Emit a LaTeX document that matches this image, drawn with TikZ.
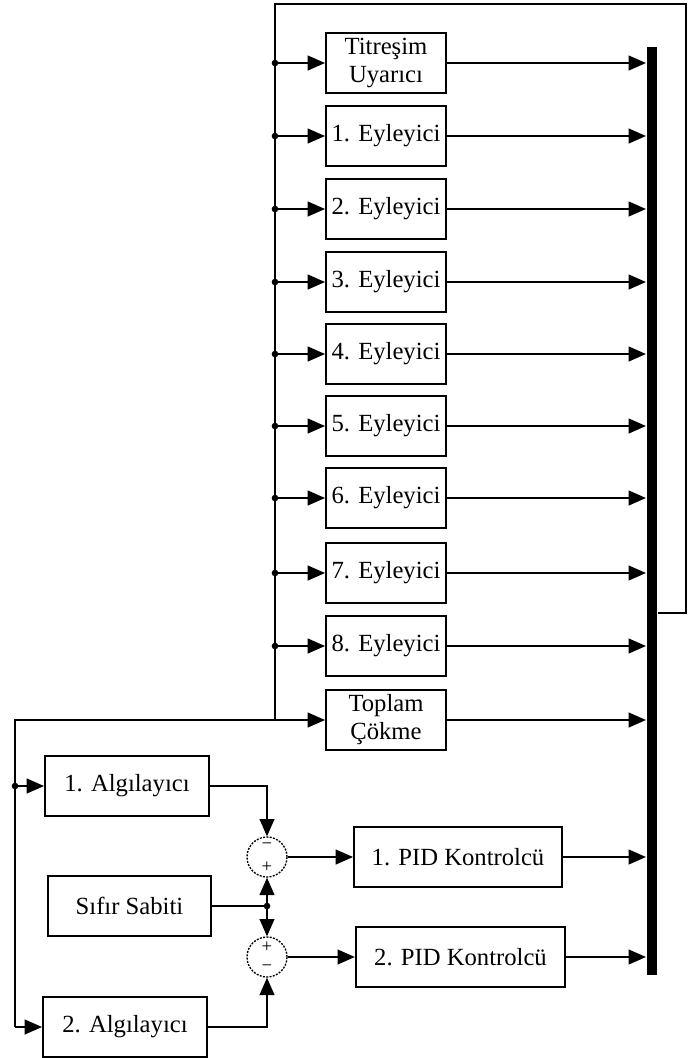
\documentclass[tikz,border=0pt]{standalone}
\usepackage{fontspec}
\setmainfont{Liberation Serif}
\usetikzlibrary{arrows.meta}
\begin{document}
\begin{tikzpicture}[x=0.75pt,y=-0.75pt, line width=1.5pt,
  blk/.style={draw, line width=1.4pt, inner sep=0pt, minimum width=90pt, minimum height=45pt, align=center, font=\fontsize{18.5}{21}\selectfont},
  arr/.style={-{Triangle[length=13pt,width=11pt]}},
  jdot/.style={circle, fill, inner sep=0pt, minimum size=5pt},
  sumc/.style={circle, draw, dash pattern=on 1.5pt off 1pt, line width=1pt, minimum size=30pt, inner sep=0pt},
  sgn/.style={inner sep=0pt, font=\fontsize{14}{14}\selectfont}]
\fill[white] (0,0) rectangle (688,1058);
\useasboundingbox (0,0) rectangle (688,1058);

% mux bar
\node[fill=black, draw=none, inner sep=0pt, minimum width=7.5pt, minimum height=696pt] (mux) at (652,511) {};

% top column blocks
\node[blk] (t0) at (386,63) {Titreşim\\Uyarıcı};
\foreach \i/\y in {1/136,2/209,3/282,4/354,5/426,6/498,7/573,8/646}{
  \node[blk] (e\i) at (386,\y) {\i. Eyleyici};
  \coordinate (j\i) at (275,\y);
  \draw[arr] (j\i) -- (e\i.west);
  \draw[arr] (e\i.east) -- (e\i.east -| mux.west);
  \node[jdot] (d\i) at (j\i) {};
}
\coordinate (j0) at (275,63);
\draw[arr] (j0) -- (t0.west);
\draw[arr] (t0.east) -- (t0.east -| mux.west);
\node[jdot] (d0) at (j0) {};

\node[blk] (tc) at (386,720) {Toplam\\Çökme};
\draw[arr] (tc.east) -- (tc.east -| mux.west);

% feedback loop
\coordinate (fbR) at (686,613);
\coordinate (fbT) at (686,4);
\coordinate (fbL) at (275,4);
\coordinate (jt) at (275,720);
\draw (mux.east |- fbR) -- (fbR) -- (fbT) -- (fbL) -- (jt);
\draw[arr] (jt) -- (tc.west);

% sensors
\node[blk, minimum width=123pt, minimum height=44.5pt] (a1) at (127,786) {1. Algılayıcı};
\node[blk, minimum width=122pt, minimum height=45.5pt] (sz) at (129.5,906) {Sıfır Sabiti};
\node[blk, minimum width=123pt, minimum height=45pt] (a2) at (125,1027) {2. Algılayıcı};

\coordinate (lt) at (15,720);
\coordinate (ld) at (15,786);
\coordinate (lb) at (15,1027);
\draw (jt) -- (lt) -- (lb);
\draw[arr] (ld) -- (a1.west);
\draw[arr] (lb) -- (a2.west);
\node[jdot] (dl) at (ld) {};

% sums
\node[sumc] (s1) at (267,857) {};
\node[sumc] (s2) at (267,957) {};
\node[sgn] (s1a) at (267,846) {−};
\node[sgn] (s1b) at (267,867) {+};
\node[sgn] (s2a) at (267,947) {+};
\node[sgn] (s2b) at (267,968) {−};

\draw[arr] (a1.east) -| (s1.north);
\coordinate (sj) at (267,906);
\draw (sz.east) -- (sj);
\draw[arr] (sj) -- (s1.south);
\draw[arr] (sj) -- (s2.north);
\node[jdot] (dsj) at (sj) {};
\draw[arr] (a2.east) -| (s2.south);

% PID
\node[blk, minimum width=156pt, minimum height=45.5pt] (p1) at (458,857) {1. PID Kontrolcü};
\node[blk, minimum width=157pt, minimum height=45pt] (p2) at (460.5,957) {2. PID Kontrolcü};
\draw[arr] (s1.east) -- (s1.east -| p1.west);
\draw[arr] (s2.east) -- (s2.east -| p2.west);
\draw[arr] (p1.east) -- (p1.east -| mux.west);
\draw[arr] (p2.east) -- (p2.east -| mux.west);
\end{tikzpicture}
\end{document}
